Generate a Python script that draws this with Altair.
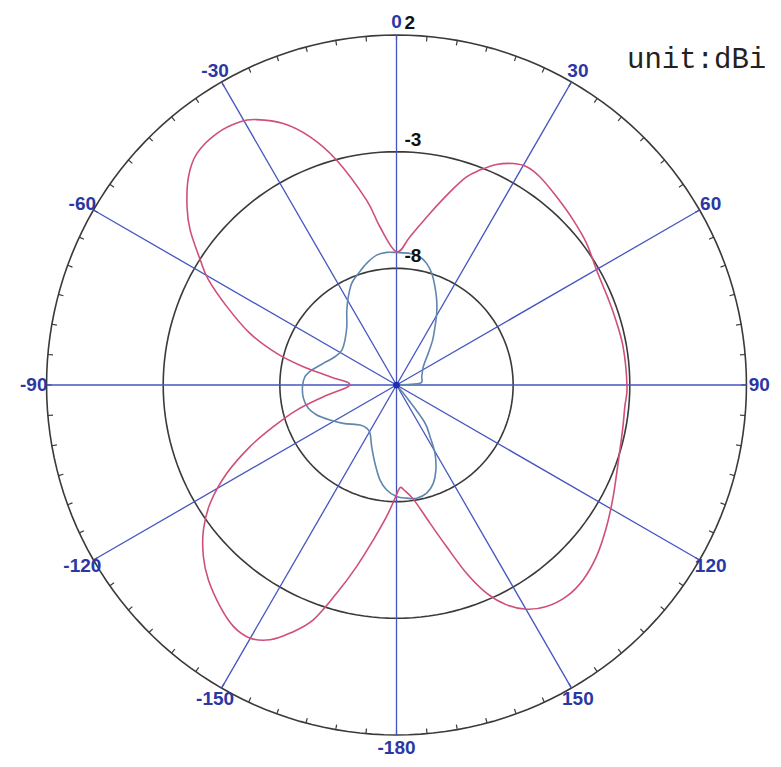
import altair as alt
import pandas as pd

# ---- data (angle: degrees clockwise from top, value: dBi) ----
red_angle = [-179, -175.7, -171.5, -167.6, -164.0, -160.5, -156.8, -153.6, -150.0, -146.0,
             -141.5, -136.0, -131.6, -126.9, -122.4, -117.5, -112.8, -108.7, -104.1, -99.1,
             -90, -82.9, -78.9, -75.2, -70.6, -65.2, -60.8, -57.5, -53.1, -49.6,
             -45, -40.8, -35.5, -30.7, -27.8, -23.4, -19.2, -14.9, -9.2, -6.0,
             0, 5.2, 11.0, 15.5, 18.6, 21.2, 24.4, 27.8, 30.8, 34.6,
             40.4, 47.0, 53.3, 60.1, 67.2, 72.5, 80.4, 90.4, 95.4, 101.3,
             109.4, 117.3, 124.0, 130.6, 136.2, 141.2, 145.9, 149.9, 153.4, 156.6,
             159.6, 162.8, 166.4, 171.4, 176, 178, 180]
red_db = [-8.1, -7.35, -6.29, -5.03, -3.72, -2.32, -1.43, -0.81, -0.47, -0.51,
          -0.86, -1.39, -1.93, -2.65, -3.54, -4.80, -6.19, -7.43, -8.59, -9.83,
          -11.0, -10.13, -8.93, -7.69, -6.34, -4.99, -3.77, -3.03, -1.94, -1.21,
          -0.39, 0.10, 0.25, 0.12, -0.14, -0.79, -1.74, -3.03, -4.97, -6.18,
          -7.29, -6.62, -5.51, -4.41, -3.59, -3.12, -2.62, -2.27, -2.11, -2.17,
          -2.41, -2.64, -2.84, -3.11, -3.2, -3.2, -3.15, -3.12, -3.17, -3.12,
          -2.93, -2.55, -2.14, -1.71, -1.44, -1.37, -1.53, -1.89, -2.46, -3.28,
          -4.39, -5.75, -6.91, -8.02, -8.5, -8.6, -8.3]

blue_angle = [-174.7, -170.1, -164.6, -158.1, -151.3, -145.5, -137.6, -125.8, -117.8, -110.6,
              -104.8, -98.1, -91, -84.8, -80, -73.5, -65.3, -57.4, -48.9, -40.5,
              -33.6, -28.6, -23.8, -18.9, -13.8, -8.7, -4.2, 0, 5.9, 10.4,
              13.9, 17.5, 21.4, 25.3, 29.3, 33.4, 38.8, 45.1, 55.7, 71.8,
              86, 90, 138, 141, 143, 147, 150.6, 155.1, 159.5, 164.4,
              169.9, 174.9, 180]
blue_db = [-8.48, -8.87, -9.52, -10.15, -10.64, -10.75, -10.68, -10.19, -9.78, -9.35,
           -9.09, -8.97, -8.97, -9.06, -9.31, -9.73, -10.1, -10.22, -10.07, -9.72,
           -9.15, -8.69, -8.24, -7.95, -7.63, -7.37, -7.30, -7.32, -7.33, -7.42,
           -7.63, -7.98, -8.48, -8.97, -9.48, -10.0, -10.53, -11.08, -11.61, -11.86,
           -11.99, -13.0, -13.0, -12.2, -11.0, -10.36, -9.64, -8.99, -8.50, -8.19,
           -8.07, -8.13, -8.22]

ring_db = [2, -3, -8]
ring_labels = ["2", "-3", "-8"]
spoke_angle = [0, 30, 60, 90, 120, 150, 180, 210, 240, 270, 300, 330]
spoke_labels = ["0", "30", "60", "90", "120", "150", "-180", "-150", "-120", "-90", "-60", "-30"]
tick_angle = list(range(0, 360, 5))
ring_sample = list(range(0, 361, 2))

# ---- layout ----
W, H = 765, 751
PX = 23.33          # pixels per dB
CX, CY = 388.5, 377  # centre in plot coords
DB0 = 13            # -13 dB sits at the centre
OUTER = 2
LABEL_R = 15.55     # radius (dB units from centre) for angle labels

xs = alt.Scale(domain=[-CX / PX, (W - CX) / PX], nice=False, zero=False)
ys = alt.Scale(domain=[-(H - CY) / PX, CY / PX], nice=False, zero=False)


def polar(chart, db="datum.db", ang="datum.angle"):
    return chart.transform_calculate(
        x=f"({db} + {DB0}) * sin({ang} * PI / 180)",
        y=f"({db} + {DB0}) * cos({ang} * PI / 180)")


red_df = pd.DataFrame({"angle": red_angle, "db": red_db, "idx": range(len(red_angle))})
blue_df = pd.DataFrame({"angle": blue_angle, "db": blue_db, "idx": range(len(blue_angle))})
ring_df = pd.DataFrame([{"ring": r, "angle": a, "db": r} for r in ring_db for a in ring_sample])
ring_lab_df = pd.DataFrame({"db": ring_db, "label": ring_labels, "angle": 0})
spoke_df = pd.DataFrame({"angle": spoke_angle, "label": spoke_labels})
tick_df = pd.DataFrame({"angle": tick_angle})
centre_df = pd.DataFrame({"angle": [0], "db": [-DB0]})

X = alt.X("x:Q", scale=xs, axis=None)
Y = alt.Y("y:Q", scale=ys, axis=None)

rings = polar(alt.Chart(ring_df)).mark_line(color="#3a3a3a", strokeWidth=1.6).encode(
    x=X, y=Y, detail="ring:N", order="angle:Q")

spokes = alt.Chart(spoke_df).transform_calculate(
    x="0", y="0",
    x2=f"({OUTER} + {DB0}) * sin(datum.angle * PI / 180)",
    y2=f"({OUTER} + {DB0}) * cos(datum.angle * PI / 180)",
).mark_rule(color="#4455c0", strokeWidth=1.3).encode(x=X, y=Y, x2="x2:Q", y2="y2:Q")

ticks = alt.Chart(tick_df).transform_calculate(
    x=f"({OUTER} + {DB0}) * sin(datum.angle * PI / 180)",
    y=f"({OUTER} + {DB0}) * cos(datum.angle * PI / 180)",
    x2=f"({OUTER} + {DB0} - 0.22) * sin(datum.angle * PI / 180)",
    y2=f"({OUTER} + {DB0} - 0.22) * cos(datum.angle * PI / 180)",
).mark_rule(color="#3a3a3a", strokeWidth=1.2).encode(x=X, y=Y, x2="x2:Q", y2="y2:Q")

blue = polar(alt.Chart(blue_df)).mark_line(
    color="#5f86ad", strokeWidth=1.6, interpolate="cardinal-closed").encode(
    x=X, y=Y, order="idx:Q")

red = polar(alt.Chart(red_df)).mark_line(
    color="#cf4f78", strokeWidth=1.6, interpolate="cardinal-closed").encode(
    x=X, y=Y, order="idx:Q")

centre = polar(alt.Chart(centre_df)).mark_point(
    filled=True, color="#1f2fb0", size=45, opacity=1).encode(x=X, y=Y)

angle_labels = alt.Chart(spoke_df).transform_calculate(
    x=f"{LABEL_R} * sin(datum.angle * PI / 180)",
    y=f"{LABEL_R} * cos(datum.angle * PI / 180)",
).mark_text(font="Liberation Sans", fontWeight="bold", fontSize=19, color="#2b37a3",
            align="center", baseline="middle").encode(x=X, y=Y, text="label:N")

ring_labels_layer = polar(alt.Chart(ring_lab_df)).mark_text(
    font="Liberation Sans", fontWeight="bold", fontSize=19, color="#111111",
    align="left", baseline="middle", dx=8, dy=-12).encode(x=X, y=Y, text="label:N")

unit = alt.Chart(pd.DataFrame({"t": ["unit:dBi"]})).mark_text(
    font="Liberation Mono", fontSize=29, color="#222222", align="left",
    baseline="alphabetic").encode(x=alt.value(619), y=alt.value(60), text="t:N")

chart = alt.layer(rings, ticks, spokes, blue, red, centre, angle_labels,
                  ring_labels_layer, unit).properties(
    width=W, height=H, autosize="none", padding=0
).configure_view(stroke=None)

chart.save("out.html", embed_options={"renderer": "svg", "actions": False})
